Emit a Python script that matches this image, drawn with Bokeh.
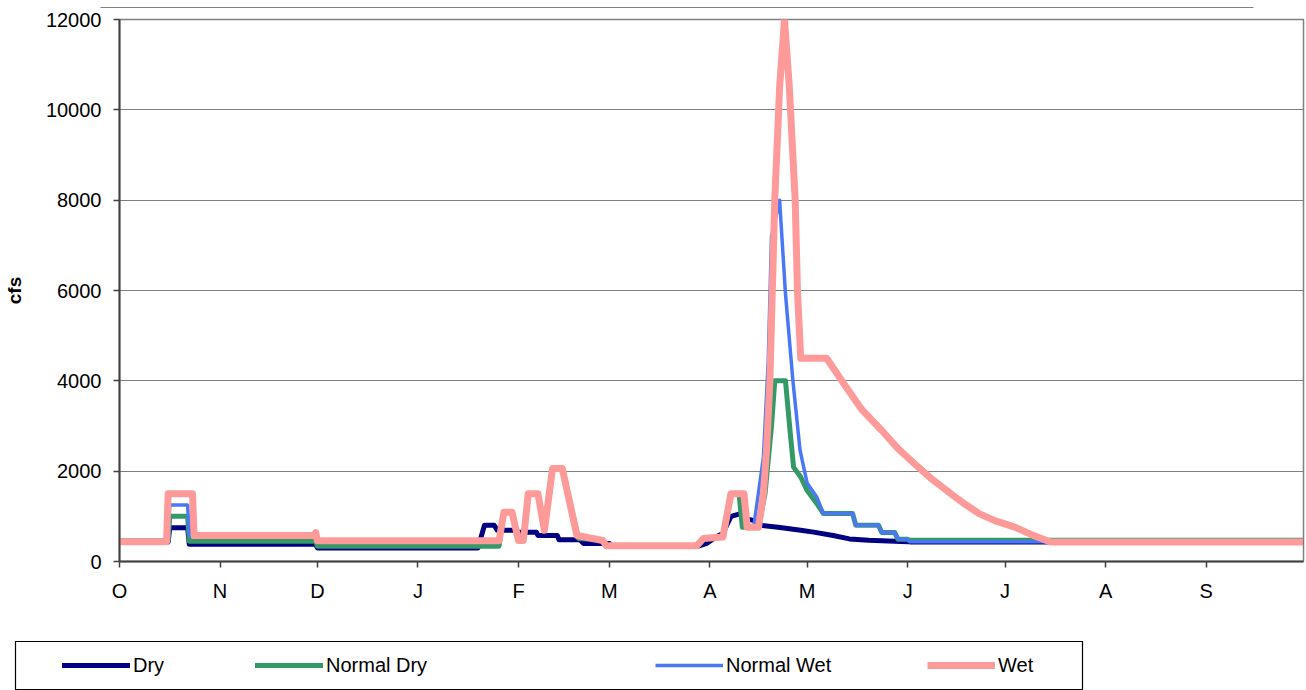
from bokeh.plotting import figure
from bokeh.layouts import column, row
from bokeh.models import FixedTicker, Legend, LegendItem, BoxAnnotation, Range1d
from bokeh.embed import file_html
from bokeh.resources import INLINE

# ---------------- data (day of water year, cfs) ----------------
month_ticks = [0, 31, 61, 92, 123, 151, 182, 212, 243, 273, 304, 335]
month_labels = ["O", "N", "D", "J", "F", "M", "A", "M", "J", "J", "A", "S"]

series_names = ["Dry", "Normal Dry", "Normal Wet", "Wet"]

dry_day = [0, 15, 15.5, 21, 21.5, 60.5, 61, 110.5, 112.5, 115.5, 116.5, 122, 122.5, 128.5, 129,
           135, 135.5, 142, 143, 151, 151.5, 178, 181, 184, 186, 188.5, 191.5, 193, 196, 198, 203,
           210, 214, 220, 225, 231, 243, 244, 365]
dry_val = [430, 430, 750, 750, 380, 380, 300, 300, 800, 800, 690, 690, 650, 650, 575,
           575, 480, 480, 400, 400, 330, 330, 400, 550, 620, 1000, 1060, 950, 900, 800, 760,
           690, 650, 575, 500, 470, 440, 430, 430]

ndry_day = [0, 15, 15.5, 21, 21.5, 60.5, 61, 117, 118.5, 121, 123, 124.5, 126, 129, 131, 133.5,
            136.5, 141.5, 149, 150, 178, 180, 186, 188.5, 191, 192, 197, 199, 201, 202, 205.3,
            206.8, 207.8, 210, 212, 215, 217, 226, 227, 234, 235, 239, 240, 243, 243.5, 365]
ndry_val = [460, 460, 1000, 1000, 450, 450, 340, 340, 1090, 1090, 465, 465, 1500, 1500, 690, 2060,
            2060, 510, 480, 350, 350, 510, 540, 1500, 1500, 760, 760, 1500, 3000, 4000, 4000,
            2830, 2090, 1870, 1570, 1280, 1060, 1060, 800, 800, 640, 640, 490, 490, 470, 470]

nwet_day = [0, 15, 15.5, 21, 21.5, 60.5, 61, 117, 118.5, 121, 123, 124.5, 126, 129, 131, 133.5,
            136.5, 141, 149, 150, 178, 180, 186, 188.5, 192.5, 193.5, 195.5, 198.5, 200, 201,
            203.5, 205.3, 207.6, 209.8, 212, 215, 217, 226, 227, 234, 235, 239, 240, 243, 243.5, 365]
nwet_val = [440, 440, 1250, 1250, 575, 575, 460, 460, 1090, 1090, 465, 465, 1500, 1500, 840, 2060,
            2060, 575, 465, 350, 350, 510, 540, 1500, 1500, 760, 760, 2300, 4450, 7200,
            8000, 5930, 4000, 2460, 1730, 1420, 1060, 1060, 800, 800, 640, 640, 490, 490, 440, 440]

wet_day = [0, 14.5, 15, 22.5, 23, 60, 60.5, 61, 117, 118.5, 121, 123, 124.5, 126, 129, 131, 133.5,
           136.5, 141, 149, 150, 178, 180, 186, 188.5, 192.5, 193.5, 197, 198.5, 199.5, 200.5, 202,
           203.5, 205, 206.5, 208.3, 209, 210, 218, 224, 229, 235, 240, 245, 250, 255, 260, 265,
           270, 276, 281, 287, 365]
wet_val = [440, 440, 1500, 1500, 575, 575, 640, 460, 460, 1090, 1090, 465, 465, 1500, 1500, 690, 2060,
           2060, 575, 465, 350, 350, 510, 540, 1500, 1500, 760, 760, 1500, 2500, 4000, 8000,
           10500, 12000, 10500, 8000, 6000, 4500, 4500, 3860, 3350, 2900, 2500, 2170, 1850, 1570, 1300, 1060,
           900, 760, 600, 430, 430]

# ---------------- styles ----------------
FONT = "Liberation Sans"
W = 1306
styles = [
    dict(line_color="#000080", line_width=5, line_join="round", line_cap="round"),
    dict(line_color="#339966", line_width=5, line_join="round", line_cap="round"),
    dict(line_color="#4A78F5", line_width=3.5, line_join="round"),
    dict(line_color="#FF9A9A", line_width=7, line_join="round"),
]


def strip(height):
    f = figure(width=W, height=height, output_backend="svg", toolbar_location=None,
               x_range=Range1d(0, W), y_range=Range1d(0, height),
               x_axis_location=None, y_axis_location=None,
               min_border_left=0, min_border_right=0, min_border_top=0, min_border_bottom=0)
    f.outline_line_color = None
    f.grid.visible = False
    f.background_fill_color = "white"
    f.border_fill_color = "white"
    return f


# ---------------- thin black rule above the chart ----------------
RULE_H = 8
rule = strip(RULE_H)
rule.add_layout(BoxAnnotation(left=100, right=1253, bottom=3.5, top=4.5,
                              fill_color="black", fill_alpha=1,
                              line_color="black", line_alpha=1, line_width=1))

# ---------------- main chart ----------------
MAIN_H = 598
p = figure(width=W, height=MAIN_H, output_backend="svg", toolbar_location=None,
           x_range=Range1d(0, 365), y_range=Range1d(0, 12000),
           min_border_left=119, min_border_right=3, min_border_top=11, min_border_bottom=45)
p.background_fill_color = "white"
p.border_fill_color = "white"
p.outline_line_color = "#808080"
p.outline_line_width = 1.5

p.xgrid.visible = False
p.ygrid.grid_line_color = "#808080"
p.ygrid.grid_line_width = 1

p.yaxis.ticker = FixedTicker(ticks=[0, 2000, 4000, 6000, 8000, 10000, 12000])
p.xaxis.ticker = FixedTicker(ticks=month_ticks)
p.xaxis.major_label_overrides = {d: lab for d, lab in zip(month_ticks, month_labels)}

for ax in (p.xaxis[0], p.yaxis[0]):
    ax.axis_line_color = "#404040"
    ax.axis_line_width = 2
    ax.major_tick_line_color = "#404040"
    ax.major_tick_line_width = 1.5
    ax.major_tick_in = 0
    ax.major_tick_out = 6
    ax.minor_tick_line_color = None
    ax.major_label_text_font = FONT
    ax.major_label_text_font_size = "20px"
    ax.major_label_text_color = "black"
    ax.major_label_standoff = 12

p.yaxis.axis_label = "cfs"
p.yaxis.axis_label_text_font = FONT
p.yaxis.axis_label_text_font_size = "19px"
p.yaxis.axis_label_text_font_style = "bold"
p.yaxis.axis_label_text_color = "black"
p.yaxis.axis_label_standoff = 18

series = [(dry_day, dry_val), (ndry_day, ndry_val), (nwet_day, nwet_val), (wet_day, wet_val)]
for (xs, ys), st in zip(series, styles):
    p.line(xs, ys, **st)

# ---------------- legend strip ----------------
LEG_H = 690 - RULE_H - MAIN_H
leg = strip(LEG_H)
leg.add_layout(BoxAnnotation(left=15, right=1082, bottom=1, top=49,
                             fill_alpha=0, line_color="black", line_alpha=1, line_width=1.2))
legend_x = [62, 255, 655, 927]
legend_y = 13
nan = float("nan")
for name, st, lx in zip(series_names, styles, legend_x):
    r = leg.line(x=[nan, nan], y=[nan, nan], **st)   # legend swatch only, draws nothing
    lg = Legend(items=[LegendItem(label=name, renderers=[r])], location=(lx, legend_y),
                orientation="horizontal", border_line_alpha=0, background_fill_alpha=0,
                padding=0, margin=0, spacing=0, glyph_width=68, glyph_height=24,
                label_height=24, label_standoff=3, label_text_font=FONT,
                label_text_font_size="20px", label_text_color="black")
    leg.add_layout(lg)

layout = column(row(rule, spacing=0), p, row(leg, spacing=0), spacing=0)
open("out.html", "w").write(file_html(layout, INLINE))
